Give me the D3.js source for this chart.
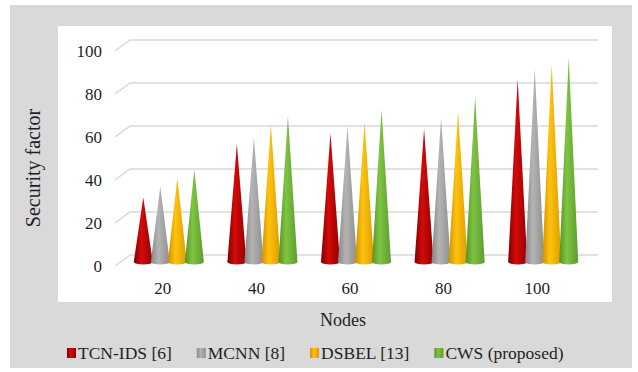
<!DOCTYPE html>
<head>
	<meta charset="utf-8">
	<title>Security factor - cone chart</title>
	<style>
	body{margin:0;background:#fff;}
	svg{display:block;}
	.grid{stroke:#d9d9d9;stroke-width:1.5;fill:none;}
	</style>
	<script src="https://d3js.org/d3.v7.min.js"></script>
</head>
<body>
	<svg id="graph" width="638" height="372"></svg>

	<script>
	// data
	var nodes  = ["20","40","60","80","100"];
	var series = ["TCN-IDS [6]","MCNN [8]","DSBEL [13]","CWS (proposed)"];
	var tcnIds = [30, 55, 60, 62, 85];
	var mcnn   = [35, 58, 63, 67, 90];
	var dsbel  = [39, 64, 65, 70, 92];
	var cws    = [43, 68, 71, 77, 95];
	var yTicks = [0, 20, 40, 60, 80, 100];

	var values = [tcnIds, mcnn, dsbel, cws];
	// dark / light / dark for the cone shading
	var colors = [
		["#7d0000","#d40a0a","#940000"],
		["#858585","#b4b4b4","#8e8e8e"],
		["#d08f00","#ffc20e","#dc9c00"],
		["#549226","#7fc443","#5c9c2e"]
	];

	var serif = "Liberation Serif";
	var textColor = "#1f1f1f";

	var svg = d3.select("#graph");
	var defs = svg.append("defs");

	//背景
	svg.append("rect").attr("x",10).attr("y",5).attr("width",622).attr("height",363).attr("fill","#d9d9d9");
	svg.append("rect").attr("x",58).attr("y",26).attr("width",554).attr("height",276).attr("fill","#ffffff");

	// gradients
	colors.forEach(function(c,i){
		var g = defs.append("linearGradient").attr("id","cone"+i)
			.attr("x1",0).attr("x2",1).attr("y1",0).attr("y2",0);
		g.append("stop").attr("offset","0%").attr("stop-color",c[0]);
		g.append("stop").attr("offset","40%").attr("stop-color",c[1]);
		g.append("stop").attr("offset","100%").attr("stop-color",c[2]);
	});

	var yScale = d3.scaleLinear().domain([0,100]).range([262,47]);
	var x0 = d3.scaleBand().domain(nodes).range([122,590]);
	var x1 = d3.scaleBand().domain(series).range([0,x0.bandwidth()]).paddingOuter(0.75);

	var depth = 7;   // 3D wall offset
	var slant = 15;

	// gridlines on the back wall, slanted at the side
	svg.append("g").selectAll("path").data(yTicks).enter()
		.append("path")
		.attr("class","grid")
		.attr("d",function(d){
			var y = yScale(d);
			return "M" + (130 - slant) + "," + (y + 4) + "L130," + (y - depth) + "L598," + (y - depth);
		});

	// y axis labels
	var yAxis = svg.append("g")
		.attr("transform","translate(102,4)")
		.call(d3.axisLeft(yScale).tickValues(yTicks).tickSize(0).tickPadding(0));
	yAxis.attr("font-family",null).attr("font-size",null);
	yAxis.select(".domain").remove();
	yAxis.selectAll(".tick text")
		.attr("dy","0.35em")
		.attr("font-family",serif).attr("font-size",17)
		.attr("fill",textColor);

	// cones
	var group = svg.append("g").selectAll("g").data(nodes).enter()
		.append("g")
		.attr("transform",function(d){ return "translate(" + x0(d) + ",0)"; });

	group.selectAll("path")
		.data(function(d,i){
			return series.map(function(s,k){ return {s:s, k:k, v:values[k][i]}; });
		})
		.enter()
		.append("path")
		.attr("fill",function(d){ return "url(#cone" + d.k + ")"; })
		.attr("d",function(d){
			var cx = x1(d.s) + x1.bandwidth()/2;
			var w = 19;
			var b = yScale(0);
			var t = yScale(d.v);
			return "M" + (cx - w/2) + "," + b +
				"L" + cx + "," + t +
				"L" + (cx + w/2) + "," + b +
				"A" + (w/2) + ",2.5 0 0 1 " + (cx - w/2) + "," + b + "Z";
		});

	// category names
	svg.append("g").selectAll("text").data(nodes).enter()
		.append("text")
		.attr("x",function(d){ return x0(d) + x0.bandwidth()/2 - 6; })
		.attr("y",294)
		.attr("text-anchor","middle")
		.attr("font-family",serif).attr("font-size",17).attr("fill",textColor)
		.text(function(d){ return d; });

	// axis titles
	svg.append("text")
		.attr("transform","translate(40,168) rotate(-90)")
		.attr("text-anchor","middle")
		.attr("font-family",serif).attr("font-size",20).attr("fill",textColor)
		.text("Security factor");
	svg.append("text")
		.attr("x",343).attr("y",326)
		.attr("text-anchor","middle")
		.attr("font-family",serif).attr("font-size",18).attr("fill",textColor)
		.text("Nodes");

	// legend
	var legend = svg.append("g");
	var lx = 67;
	series.forEach(function(s,k){
		legend.append("rect").attr("x",lx).attr("y",348).attr("width",9).attr("height",10)
			.attr("fill","url(#cone" + k + ")");
		var t = legend.append("text")
			.attr("x",lx + 11).attr("y",359)
			.attr("font-family",serif).attr("font-size",17.5).attr("fill",textColor)
			.text(s);
		lx = lx + 11 + t.node().getComputedTextLength() + 25;
	});
	</script>
</body>
</html>
